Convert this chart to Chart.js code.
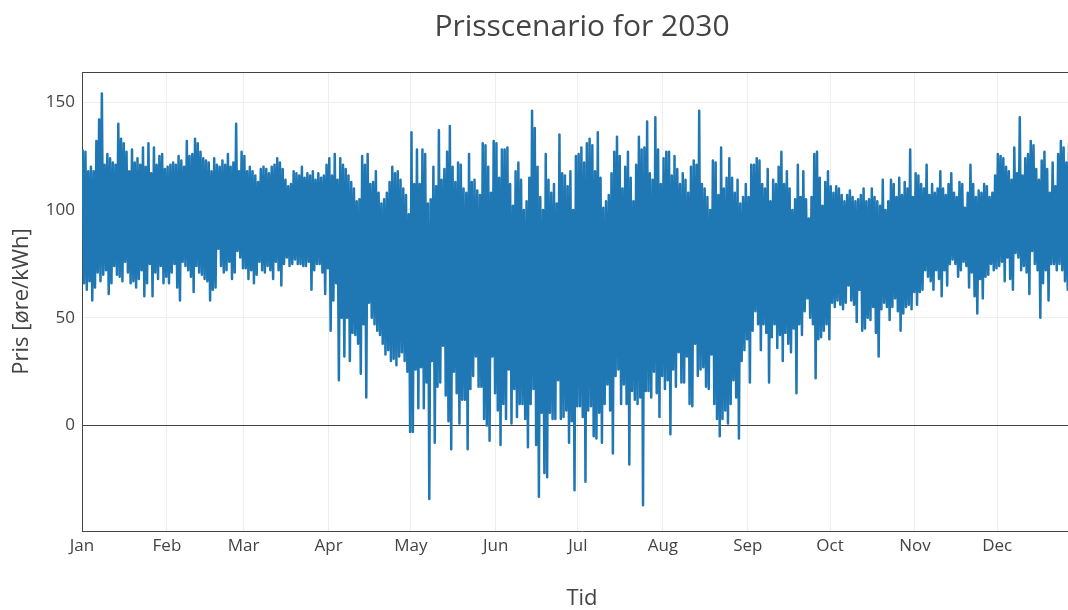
<!DOCTYPE html>
<html lang="no">
<head>
<meta charset="utf-8">
<title>Prisscenario for 2030</title>
<script src="https://cdn.jsdelivr.net/npm/chart.js@4/dist/chart.umd.min.js"></script>
<style>
  html, body { margin: 0; padding: 0; background: #fff; overflow: hidden; }
  #wrap { width: 1068px; height: 610px; overflow: hidden; position: relative; }
  canvas { display: block; }
</style>
</head>
<body>
<div id="wrap"><canvas id="chart" width="1164" height="610" style="width:1164px;height:610px"></canvas></div>
<script>
// Month labels and the day of year on which each month starts (2030)
const monthNames = ['Jan', 'Feb', 'Mar', 'Apr', 'May', 'Jun', 'Jul', 'Aug', 'Sep', 'Oct', 'Nov', 'Dec'];
const monthStartDay = [0, 31, 59, 90, 120, 151, 181, 212, 243, 273, 304, 334];
const yTickValues = [0, 50, 100, 150];

// Highest and lowest hourly price of each day, øre/kWh
const janMax = [128,127,118,120,118,132,142,154,121,126,124,122,121,140,133,131,127,118,128,122,124,121,129,120,131,117,129,121,125,126,119];
const janMin = [66,63,67,58,64,71,67,70,72,61,66,74,70,69,67,76,71,66,67,64,68,72,60,66,75,60,71,68,74,66,69];
const febMax = [120,121,122,121,125,123,120,132,125,126,133,131,127,124,123,122,118,124,121,120,123,121,126,120,122,140,118,127];
const febMin = [66,71,75,64,58,76,74,72,69,62,74,71,70,68,67,58,63,64,82,74,71,72,76,68,71,81,78,73];
const marMax = [125,118,120,118,116,113,119,120,119,117,120,121,124,122,119,114,111,112,118,117,116,120,115,117,116,118,114,117,115,116,121];
const marMin = [73,68,72,66,70,76,72,71,74,72,68,76,72,65,75,78,74,75,77,75,75,74,74,76,63,72,75,75,71,61,73];
const aprMax = [124,116,126,114,124,121,119,116,113,110,104,105,125,121,126,112,113,118,108,103,105,108,113,120,117,118,114,110,107,98];
const aprMin = [44,58,66,21,50,32,50,30,43,42,38,24,47,13,57,50,47,44,42,38,33,35,30,31,28,32,34,30,25,-3];
const mayMax = [136,112,128,112,128,126,103,105,120,111,137,114,119,127,139,120,113,122,121,110,108,126,113,114,109,107,131,130,120,108,132];
const mayMin = [-3,26,8,27,8,20,-34,30,-8,18,20,37,14,2,-11,25,15,1,12,12,-11,17,23,32,18,18,3,0,-7,32,15];
const junMax = [131,115,128,128,129,112,102,118,122,114,100,104,115,146,138,120,106,100,126,114,108,112,103,135,117,116,111,118,100,125];
const junMin = [7,-9,10,3,26,1,17,4,10,10,3,-10,10,17,-9,-33,6,-22,-24,6,3,3,21,3,4,7,-8,2,-30,9];
const julMax = [126,129,122,131,133,130,118,136,115,101,104,107,117,127,134,125,110,120,127,115,104,121,134,128,129,141,117,114,143,128,112];
const julMin = [9,4,-26,7,9,-5,-6,6,-8,10,19,7,-13,23,26,10,19,10,-18,16,12,10,13,-37,16,16,13,25,15,4,23];
const augMax = [124,127,127,116,125,119,112,117,114,108,120,123,121,146,112,110,106,100,123,122,107,129,110,115,124,115,108,114,103,106,112];
const augMin = [17,21,-4,26,18,34,20,20,32,10,9,38,23,26,27,18,17,33,10,3,-5,3,7,1,10,21,13,-6,30,35,40];
const sepMax = [106,121,121,124,123,112,110,119,104,114,112,120,127,112,118,110,100,105,121,106,118,105,96,106,126,127,115,102,113,118];
const sepMin = [20,44,53,47,35,47,43,20,41,47,36,42,30,43,38,34,45,15,47,42,53,59,50,47,22,40,41,44,47,40];
const octMax = [111,108,111,110,107,104,107,109,106,104,105,107,110,104,105,110,106,104,102,114,100,104,114,112,106,115,107,113,110,128,106];
const octMin = [57,55,58,56,54,57,65,58,56,48,63,44,45,50,49,55,43,32,54,57,55,49,55,59,53,44,52,55,56,54,62];
const novMax = [117,116,112,110,121,107,112,108,110,118,110,107,112,117,108,106,113,112,101,108,121,112,106,109,108,112,111,106,108,116];
const novMin = [56,62,63,72,69,67,63,72,68,60,72,65,75,77,75,69,72,76,74,64,71,60,52,68,59,69,70,75,72,73];
const decMax = [126,125,124,120,118,114,129,117,143,116,124,126,132,130,119,114,123,127,119,108,122,111,126,132,129,122,131];
const decMin = [74,76,67,78,68,63,80,78,72,74,71,61,81,75,72,50,66,72,58,75,75,72,75,72,67,63,78];

const dailyMax = [janMax, febMax, marMax, aprMax, mayMax, junMax, julMax, augMax, sepMax, octMax, novMax, decMax];
const dailyMin = [janMin, febMin, marMin, aprMin, mayMin, junMin, julMin, augMin, sepMin, octMin, novMin, decMin];

// Price trace: each day contributes its peak (morning) and its trough (evening)
const pricePoints = [];
dailyMax.forEach((monthMax, m) => {
  monthMax.forEach((hi, i) => {
    const day = monthStartDay[m] + i;
    pricePoints.push({ x: day + 0.25, y: hi });
    pricePoints.push({ x: day + 0.75, y: dailyMin[m][i] });
  });
});

const textColor = '#444';
const fontFamily = '"Open Sans", "DejaVu Sans", Arial, sans-serif';

// Thin frame line along the top edge of the plot area
const topFrame = {
  id: 'topFrame',
  afterDraw(chart) {
    const { ctx, chartArea } = chart;
    ctx.save();
    ctx.strokeStyle = '#444';
    ctx.lineWidth = 1;
    ctx.beginPath();
    ctx.moveTo(chartArea.left, chartArea.top + 0.5);
    ctx.lineTo(chartArea.right, chartArea.top + 0.5);
    ctx.stroke();
    ctx.restore();
  }
};

new Chart(document.getElementById('chart'), {
  type: 'line',
  data: {
    datasets: [{
      label: 'Pris',
      data: pricePoints,
      borderColor: '#1f77b4',
      backgroundColor: '#1f77b4',
      borderWidth: 2.5,
      borderJoinStyle: 'round',
      pointRadius: 0,
      tension: 0,
      fill: false
    }]
  },
  options: {
    responsive: false,
    animation: false,
    devicePixelRatio: 1,
    layout: { padding: 0 },
    plugins: {
      legend: { display: false },
      tooltip: { enabled: false },
      title: {
        display: true,
        text: 'Prisscenario for 2030',
        color: textColor,
        font: { family: fontFamily, size: 30, weight: 'normal', lineHeight: 1.2 },
        padding: { top: 9, bottom: 27 }
      }
    },
    scales: {
      x: {
        type: 'linear',
        min: 0,
        max: 364.96,
        afterFit: s => { s.height = 79; },
        afterBuildTicks: s => { s.ticks = monthStartDay.map(v => ({ value: v })); },
        ticks: {
          color: textColor,
          font: { family: fontFamily, size: 17 },
          padding: 5,
          maxRotation: 0,
          autoSkip: false,
          callback: (v) => monthNames[monthStartDay.indexOf(v)]
        },
        grid: { color: '#eee', lineWidth: 1, drawTicks: false },
        border: { display: true, color: '#444', width: 1 },
        title: {
          display: true,
          text: 'Tid',
          color: textColor,
          font: { family: fontFamily, size: 22, lineHeight: 1.0 },
          padding: { top: 0, bottom: 0 }
        }
      },
      y: {
        type: 'linear',
        position: 'left',
        min: -48.9,
        max: 164,
        afterFit: s => { s.width = 82; },
        afterBuildTicks: s => { s.ticks = yTickValues.map(v => ({ value: v })); },
        ticks: {
          color: textColor,
          font: { family: fontFamily, size: 17 },
          padding: 7
        },
        grid: {
          drawTicks: false,
          lineWidth: 1,
          color: ctx => (ctx.tick && ctx.tick.value === 0 ? '#444' : '#eee')
        },
        border: { display: true, color: '#444', width: 1 },
        title: {
          display: true,
          text: 'Pris [øre/kWh]',
          color: textColor,
          font: { family: fontFamily, size: 22 },
          padding: { top: 9, bottom: 0 }
        }
      },
      yRight: {
        type: 'linear',
        position: 'right',
        min: -48.9,
        max: 164,
        afterFit: s => { s.width = 82; },
        ticks: { display: false },
        grid: { display: false },
        border: { display: false }
      }
    }
  },
  plugins: [topFrame]
});
</script>
</body>
</html>
